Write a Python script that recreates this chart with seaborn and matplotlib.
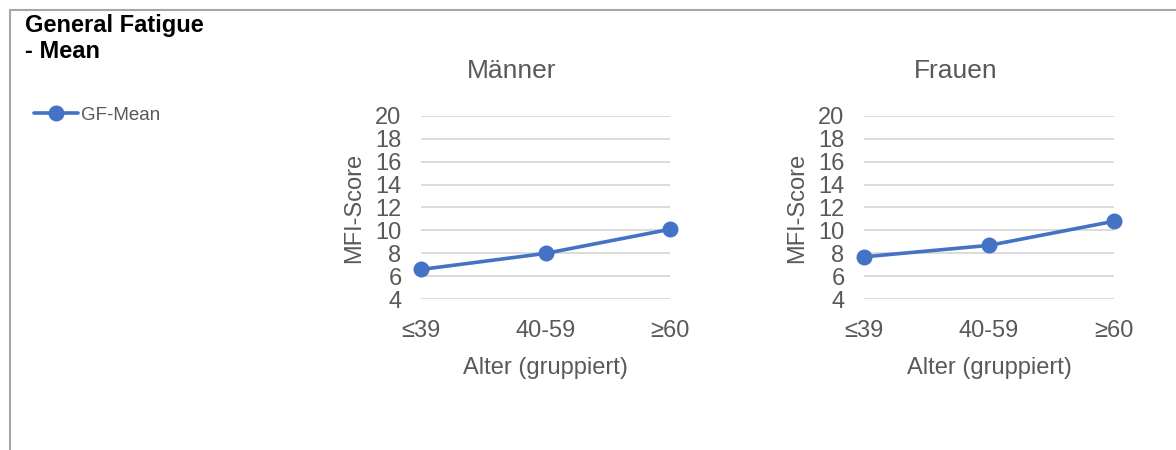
import pandas as pd
import matplotlib
matplotlib.use("Agg")
import matplotlib.pyplot as plt
import matplotlib.patches as mpatches
import seaborn as sns

# data
alter = ["≤39", "40-59", "≥60"]
maenner = [6.6, 8.0, 10.1]
frauen = [7.7, 8.7, 10.8]
panels = ["Männer", "Frauen"]
y_ticks = [4, 6, 8, 10, 12, 14, 16, 18, 20]

df = pd.DataFrame({
    "Geschlecht": ["Männer"] * 3 + ["Frauen"] * 3,
    "Alter": alter * 2,
    "Score": maenner + frauen,
})

sns.set_theme(style="white")
plt.rcParams["font.family"] = ["Liberation Sans", "DejaVu Sans"]

blue = "#4472C4"
grey_txt = "#595959"
grid_c = "#d9d9d9"

fig = plt.figure(figsize=(11.76, 4.5), dpi=100)

ax_pos = {"Männer": [421 / 1176, 0.3349, 249 / 1176, 0.408],
          "Frauen": [864 / 1176, 0.3349, 250 / 1176, 0.408]}
title_x = {"Männer": 512 / 1176, "Frauen": 956 / 1176}

handles = None
for name in panels:
    ax = fig.add_axes(ax_pos[name])
    sub = df[df["Geschlecht"] == name]
    sns.lineplot(data=sub, x="Alter", y="Score", sort=False, marker="o",
                 markersize=11.5, markeredgewidth=0, linewidth=2.6,
                 color=blue, label="GF-Mean", legend=False, ax=ax)
    for ln in ax.lines:
        ln.set_clip_on(False)
    ax.set_xlim(0, 2)
    ax.set_ylim(4, 20)
    ax.set_yticks(y_ticks)
    ax.yaxis.grid(True, color=grid_c, linewidth=1.3)
    ax.xaxis.grid(False)
    ax.set_axisbelow(True)
    for s in ax.spines.values():
        s.set_visible(False)
    ax.tick_params(axis="y", length=0, pad=14, labelsize=17, labelcolor=grey_txt)
    ax.tick_params(axis="x", length=0, pad=15, labelsize=17, labelcolor=grey_txt)
    ax.set_xlabel("Alter (gruppiert)", fontsize=17, color=grey_txt, labelpad=11)
    ax.set_ylabel("MFI-Score", fontsize=17, color=grey_txt, labelpad=7)
    fig.text(title_x[name], 1 - 78 / 450, name, ha="center", va="baseline",
             fontsize=19, color=grey_txt)
    if handles is None:
        handles, labels = ax.get_legend_handles_labels()

fig.text(25 / 1176, 1 - 32 / 450, "General Fatigue", fontsize=17,
         fontweight="bold", color="black", va="baseline")
fig.text(25 / 1176, 1 - 58 / 450, "- Mean", fontsize=17,
         fontweight="bold", color="black", va="baseline")

leg = fig.legend(handles, labels, loc="center left",
                 bbox_to_anchor=(34 / 1176, 1 - 115 / 450), frameon=False,
                 fontsize=13.5, handlelength=2.35, handletextpad=0.15,
                 borderpad=0, borderaxespad=0)
for t in leg.get_texts():
    t.set_color(grey_txt)

# chart area border (cropped at right and bottom in the reference)
fig.add_artist(mpatches.Rectangle((9.5 / 1176, -0.1), 1.2, 1.1 - 10 / 450,
                                  transform=fig.transFigure, fill=False,
                                  edgecolor="#a6a6a6", linewidth=1.5))

fig.savefig("out.png", dpi=100)
